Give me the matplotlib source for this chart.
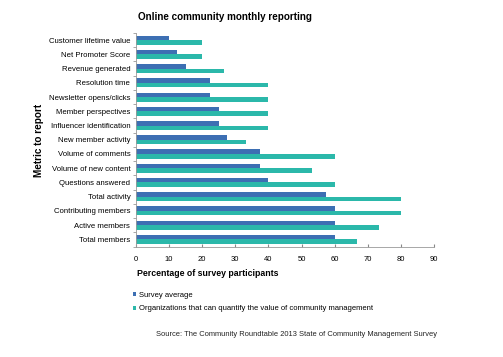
import matplotlib.pyplot as plt
import numpy as np

plt.rcParams['font.family'] = ['Liberation Sans', 'DejaVu Sans']

# Data (top to bottom as shown)
metrics = ["Customer lifetime value", "Net Promoter Score", "Revenue generated",
           "Resolution time", "Newsletter opens/clicks", "Member perspectives",
           "Influencer identification", "New member activity", "Volume of comments",
           "Volume of new content", "Questions answered", "Total activity",
           "Contributing members", "Active members", "Total members"]
survey_avg = [10, 12.5, 15, 22.5, 22.5, 25, 25, 27.5, 37.5, 37.5, 40, 57.5, 60, 60, 60]
orgs_quantify = [20, 20, 26.7, 40, 40, 40, 40, 33.3, 60, 53.3, 60, 80, 80, 73.3, 66.7]
xticks = list(range(0, 100, 10))

blue = '#3d6fb3'
teal = '#2bb8aa'

fig = plt.figure(figsize=(5.03, 3.57), dpi=100)
ax = fig.add_axes([0.270, 0.3095, 0.593, 0.598])

y = np.arange(len(metrics))
h = 0.32
ax.barh(y - h / 2, survey_avg, height=h, color=blue, label='Survey average')
ax.barh(y + h / 2, orgs_quantify, height=h, color=teal,
        label='Organizations that can quantify the value of community management')

ax.set_ylim(len(metrics) - 0.5, -0.5)
ax.set_xlim(0, 90)
ax.set_xticks(xticks)
ax.tick_params(axis='x', labelsize=5.5, length=2.5, direction='in', color='#888888', pad=7)
ax.set_yticks(y)
ax.set_yticklabels(metrics, fontsize=5.6)
ax.tick_params(axis='y', length=0, pad=4)
ax.set_yticks(np.arange(len(metrics) + 1) - 0.5, minor=True)
ax.tick_params(axis='y', which='minor', length=2.5, color='#999999')

for s in ['top', 'right']:
    ax.spines[s].set_visible(False)
for s in ['left', 'bottom']:
    ax.spines[s].set_color('#999999')
    ax.spines[s].set_linewidth(0.6)

fig.text(138 / 503, 1 - 17 / 357, 'Online community monthly reporting',
         fontsize=7.15, fontweight='bold', ha='left', va='center')
fig.text(39 / 503, 1 - 140 / 357, 'Metric to report', fontsize=7.2, fontweight='bold',
         rotation=90, ha='center', va='center')
fig.text(137 / 503, 1 - 274 / 357, 'Percentage of survey participants',
         fontsize=6.3, fontweight='bold', ha='left', va='center')

leg = fig.legend(loc='upper left', bbox_to_anchor=(133 / 503, 1 - 292 / 357),
                 fontsize=5.5, frameon=False, handlelength=0.45, handleheight=0.45,
                 handletextpad=0.3, labelspacing=0.85, borderpad=0, borderaxespad=0)

fig.text(437 / 503, 1 - 334 / 357,
         'Source: The Community Roundtable 2013 State of Community Management Survey',
         fontsize=5.4, ha='right', va='center', color='#222222')

fig.savefig('out.png', dpi=100)
